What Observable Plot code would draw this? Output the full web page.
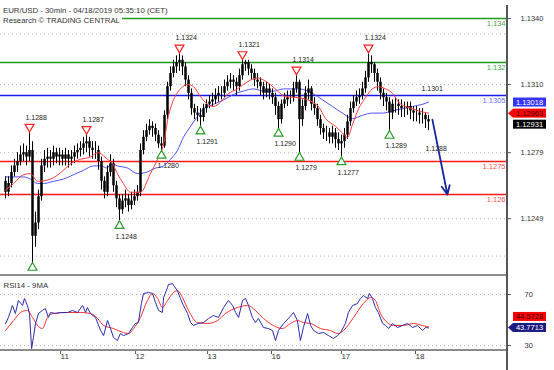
<!DOCTYPE html>
<html><head><meta charset="utf-8">
<script src="https://cdn.jsdelivr.net/npm/d3@7"></script>
<script src="https://cdn.jsdelivr.net/npm/@observablehq/plot@0.6"></script>
<style>
body{margin:0;background:#fff;}
#wrap{position:relative;width:554px;height:370px;overflow:hidden;font-family:"Liberation Sans",Arial,sans-serif;}
#price{position:absolute;left:0;top:0;}
#rsi{position:absolute;left:0;top:275px;}
.title{position:absolute;left:0;padding:0 2px 0 3px;font-size:7.8px;color:#333;line-height:9px;white-space:nowrap;overflow:hidden;}
#axisline{position:absolute;left:506px;top:5px;width:1.5px;height:365px;background:#555;}
.sep{position:absolute;left:0;width:507px;height:2px;background:#8c8c8c;}
</style></head><body>
<div id="wrap">
  <div id="price"></div>
  <div id="rsi"></div>
  <div class="sep" style="top:274px"></div>
  <div class="sep" style="top:349px"></div>
  <div id="axisline"></div>
  <div class="title" style="top:6px;height:9px">EUR/USD - 30min - 04/18/2019 05:35:10 (CET)</div>
  <div class="title" style="top:15px;height:10px;line-height:11px;background:#fff">Research © TRADING CENTRAL</div>
</div>
<script>
// ---------------- data ----------------
const firstOpen = 1.1266;
const close = [
1.1261,1.1265,1.1270,1.1273,1.1275,1.1278,1.1279,1.1277,1.1280,1.1241,
1.1247,1.1259,1.1273,1.1276,1.1277,1.1276,1.1279,1.1277,1.1278,1.1276,
1.1278,1.1276,1.1277,1.1279,1.1280,1.1281,1.1283,1.1284,1.1281,1.1280,
1.1280,1.1275,1.1266,1.1261,1.1270,1.1274,1.1264,1.1258,1.1253,1.1257,
1.1258,1.1255,1.1257,1.1259,1.1261,1.1280,1.1286,1.1289,1.1291,1.1290,
1.1287,1.1283,1.1282,1.1296,1.1309,1.1315,1.1318,1.1320,1.1321,1.1318,
1.1312,1.1306,1.1299,1.1297,1.1296,1.1295,1.1299,1.1301,1.1302,1.1303,
1.1305,1.1306,1.1306,1.1309,1.1311,1.1312,1.1311,1.1309,1.1314,1.1319,
1.1320,1.1317,1.1315,1.1312,1.1311,1.1309,1.1306,1.1308,1.1306,1.1304,
1.1300,1.1294,1.1301,1.1303,1.1304,1.1304,1.1308,1.1311,1.1294,1.1300,
1.1306,1.1308,1.1301,1.1299,1.1294,1.1290,1.1288,1.1288,1.1286,1.1288,
1.1285,1.1283,1.1284,1.1287,1.1293,1.1299,1.1302,1.1304,1.1305,1.1308,
1.1313,1.1320,1.1319,1.1315,1.1311,1.1306,1.1304,1.1302,1.1297,1.1301,
1.1301,1.1300,1.1299,1.1299,1.1300,1.1298,1.1297,1.1297,1.1296,1.1296,
1.1294,1.1293];
const high = [
1.1268,1.1268,1.1273,1.1276,1.1279,1.1282,1.1283,1.1282,1.1288,1.1284,
1.1252,1.1262,1.1276,1.1280,1.1281,1.1280,1.1282,1.1281,1.1281,1.1280,
1.1281,1.1280,1.1280,1.1282,1.1283,1.1284,1.1286,1.1287,1.1286,1.1284,
1.1284,1.1282,1.1277,1.1268,1.1273,1.1278,1.1276,1.1266,1.1260,1.1260,
1.1262,1.1260,1.1261,1.1262,1.1264,1.1283,1.1289,1.1292,1.1294,1.1293,
1.1292,1.1289,1.1286,1.1298,1.1311,1.1318,1.1321,1.1323,1.1324,1.1323,
1.1320,1.1314,1.1308,1.1301,1.1300,1.1299,1.1301,1.1303,1.1305,1.1306,
1.1308,1.1309,1.1309,1.1312,1.1314,1.1315,1.1314,1.1313,1.1317,1.1321,
1.1321,1.1321,1.1319,1.1317,1.1315,1.1313,1.1311,1.1311,1.1310,1.1308,
1.1306,1.1302,1.1303,1.1306,1.1307,1.1307,1.1311,1.1314,1.1312,1.1303,
1.1309,1.1312,1.1309,1.1304,1.1301,1.1296,1.1292,1.1291,1.1290,1.1291,
1.1290,1.1288,1.1287,1.1290,1.1296,1.1302,1.1305,1.1307,1.1308,1.1311,
1.1316,1.1324,1.1323,1.1320,1.1317,1.1313,1.1308,1.1306,1.1304,1.1303,
1.1304,1.1303,1.1303,1.1302,1.1302,1.1302,1.1300,1.1300,1.1299,1.1299,
1.1297,1.1296];
const low = [
1.1258,1.1259,1.1263,1.1268,1.1270,1.1273,1.1275,1.1273,1.1275,1.1229,
1.1236,1.1244,1.1257,1.1270,1.1272,1.1272,1.1273,1.1274,1.1273,1.1273,
1.1273,1.1272,1.1273,1.1274,1.1276,1.1277,1.1278,1.1279,1.1277,1.1276,
1.1276,1.1271,1.1262,1.1258,1.1259,1.1268,1.1261,1.1254,1.1248,1.1251,
1.1254,1.1252,1.1253,1.1255,1.1257,1.1259,1.1278,1.1284,1.1287,1.1286,
1.1284,1.1281,1.1280,1.1281,1.1294,1.1307,1.1313,1.1315,1.1316,1.1314,
1.1309,1.1303,1.1296,1.1294,1.1293,1.1291,1.1293,1.1297,1.1299,1.1300,
1.1301,1.1302,1.1303,1.1304,1.1307,1.1308,1.1307,1.1305,1.1307,1.1312,
1.1316,1.1314,1.1312,1.1309,1.1308,1.1305,1.1303,1.1304,1.1303,1.1301,
1.1296,1.1290,1.1292,1.1299,1.1300,1.1301,1.1302,1.1306,1.1279,1.1291,
1.1298,1.1303,1.1298,1.1296,1.1291,1.1287,1.1285,1.1284,1.1283,1.1283,
1.1281,1.1280,1.1277,1.1281,1.1285,1.1291,1.1297,1.1300,1.1301,1.1303,
1.1306,1.1311,1.1315,1.1311,1.1307,1.1303,1.1300,1.1298,1.1289,1.1294,
1.1297,1.1296,1.1295,1.1295,1.1296,1.1294,1.1293,1.1293,1.1292,1.1292,
1.1290,1.1289];

// moving averages on price (bar index, price)
const redMaIdx = [0,2.7,6,8.3,10.7,15,19.3,21.7,25,28.3,30.7,34,35.7,37.3,39.3,41.7,45,48.3,50.7,52.7,54.3,56,58.3,60.7,62.7,65,67.3,69.3,71.7,74,77.3,79.3,81.7,84,86,88.3,90.7,93.3,97.7,102.3,104.3,106.7,110,112.3,114,115.7,117.7,120,122.3,124.3,126.7,129,131,133.3,135.7,137.7,141];
const redMaVal = [1.1262,1.1265,1.1269,1.12695,1.1266,1.1267,1.1271,1.1274,1.1276,1.1277,1.1279,1.1276,1.1274,1.12695,1.1265,1.1261,1.1261,1.12695,1.1276,1.1283,1.12955,1.1303,1.1308,1.1310,1.1309,1.13045,1.1301,1.1300,1.1302,1.13055,1.1308,1.1310,1.1312,1.1313,1.1312,1.1310,1.1307,1.13045,1.1304,1.1302,1.1300,1.12945,1.1291,1.1288,1.1286,1.1292,1.1299,1.1304,1.1308,1.1309,1.1308,1.1306,1.1302,1.1300,1.1299,1.1298,1.1297];
const blueMaIdx = [0,6,8.3,10.7,12.7,16,19.3,22.7,26,29.3,31.7,34,35,37.3,40.7,44,46.7,50,52.7,55,57.3,59.3,61.7,64,66,69.3,72.7,76,79.3,82.7,86,89.3,92.7,97.7,102.3,105.7,109,112.3,115.7,119,122.3,125.7,129,132.3,135.7,139,141];
const blueMaVal = [1.1268,1.1268,1.1267,1.1265,1.1265,1.1266,1.1267,1.1269,1.1271,1.1273,1.1273,1.1272,1.1274,1.1273,1.1272,1.12695,1.1270,1.1272,1.1273,1.1276,1.1280,1.1286,1.1291,1.12955,1.1299,1.1301,1.1303,1.13055,1.1307,1.1308,1.1307,1.1307,1.1308,1.1308,1.1306,1.1303,1.1300,1.1297,1.12945,1.1296,1.1297,1.1297,1.1298,1.1299,1.1300,1.1301,1.1302];

// RSI14 and its 9MA
const rsiIdx = [0,1,2.3,3.3,4.3,5.7,6.3,7.3,8,8.7,9.3,10,11,12.3,13.3,14.3,15,16.7,18.3,20.7,22.3,24,25.7,26.7,27.3,28.3,30,31.7,32.7,34,35,36,37.3,38.3,39.3,41,42.3,43.3,44.3,45.3,46,47.7,49,50,51,52.3,52.7,54,54.3,55.7,56,57.3,58.3,59.3,60.7,61.7,62.7,64.3,66,67.7,69.3,71,72.7,74.3,75.7,76.7,77.7,79,80,81,82.3,83.3,84.3,86,87.7,89,90,91,92.7,94.3,96,97.3,98.3,99.3,100.7,101.7,102.7,104.3,106,107.7,109.3,110.7,111.7,113.3,114.3,115.7,117.3,118.3,119.3,120.7,121.3,122.3,123.3,124.3,125.7,126.7,127.7,129,130.7,132.3,134,135.7,137.3,139,140,141];
const rsiVal = [47.0,52.2,61.4,55.1,65.3,61.4,66.9,61.4,55.1,27.6,36.3,47.3,55.1,57.5,59.0,52.0,55.9,55.1,55.9,55.9,57.5,55.9,61.4,55.9,59.8,55.1,52.0,41.8,37.8,49.6,43.3,36.3,33.9,39.4,37.8,39.4,44.1,47.3,48.0,62.9,70.8,71.6,70.8,63.7,57.5,55.9,67.6,75.5,77.8,78.6,77.1,73.1,66.9,61.4,55.1,48.0,45.7,47.3,48.0,51.2,53.5,52.0,59.8,65.3,61.4,55.9,52.0,65.3,66.9,61.4,52.0,48.0,51.2,44.1,43.3,41.8,33.9,41.8,47.3,51.2,55.9,49.6,33.9,44.1,55.1,45.7,41.8,39.4,40.2,37.8,35.5,37.8,40.2,47.3,55.9,61.4,62.9,66.9,69.2,66.9,70.8,66.9,59.8,55.9,47.3,45.7,43.3,47.3,44.1,45.7,47.3,44.1,45.7,41.8,44.1,43.8];
const rsiMaIdx = [0,2.7,5,7.3,9,10.7,12.3,14,16,20.7,25,28.3,30.7,32.7,36,39.3,41,42.7,45,47.3,49,50.7,52.3,54,55.7,57.3,59,61,64,67.3,70.7,73.3,77.3,80.7,83.3,86,89.3,92.3,95,97.3,99.3,101.7,105,108.3,110.7,112.7,116,119.3,121.7,123.3,125,127.3,129.3,132.7,136,139,141];
const rsiMaVal = [41.8,49.6,55.9,57.5,52.0,45.7,43.3,52.0,55.1,55.9,55.9,55.1,51.2,45.7,43.3,40.2,39.4,43.3,52.0,65.3,70.8,66.9,59.8,65.3,70.8,73.1,67.6,57.5,48.0,47.3,49.6,55.1,59.8,61.4,57.5,51.2,45.7,43.3,47.3,49.6,48.0,47.3,43.3,41.8,39.4,41.8,52.0,62.9,67.6,65.3,55.1,48.0,45.7,45.7,47.3,45.7,44.6];

// swing highs / lows
const markerIdx   = [8, 9, 27, 38, 52, 58, 65, 79, 91, 97, 98, 112, 121, 128];
const markerPrice = [1.1288, 1.1229, 1.1287, 1.1248, 1.1280, 1.1324, 1.1291, 1.1321, 1.1290, 1.1314, 1.1279, 1.1277, 1.1324, 1.1289];
const markerType  = ["H","L","H","L","L","H","L","H","L","H","L","L","H","L"];
const markerLabel = ["1.1288","","1.1287","1.1248","1.1280","1.1324","1.1291","1.1321","1.1290","1.1314","1.1279","1.1277","1.1324","1.1289"];
const pendingIdx   = [140, 141.3];
const pendingPrice = [1.1301, 1.1288];
const pendingType  = ["H","L"];

// key levels
const levelVal   = [1.134, 1.132, 1.1305, 1.1275, 1.126];
const levelLabel = ["1.134","1.132","1.1305","1.1275","1.126"];
const levelKind  = ["res","res","piv","sup","sup"];

// projection arrow
const arrowFromIdx = 142.3, arrowFromPrice = 1.1294;
const arrowToIdx = 147.3,   arrowToPrice = 1.1260;

// axes
const priceTicks = [1.1340, 1.1310, 1.1279, 1.1249];
const priceGrid  = [1.1333, 1.1310, 1.1279, 1.1249, 1.1232];
const rsiTicks = [70, 30];
const rsiGrid  = [70, 30];
const dayIdx    = [17.7, 42.7, 66.7, 88, 111.3, 136];
const dayLabels = ["11","12","13","16","17","18"];

// last values
const priceBadgeVal  = [1.13018, 1.12963, 1.12931];
const priceBadgeText = ["1.13018","1.12963","1.12931"];
const rsiBadgeVal  = [44.5728, 43.7713];
const rsiBadgeText = ["44.5728","43.7713"];

// ---------------- build ----------------
const FONT = '"Liberation Sans", Arial, sans-serif';
const candles = close.map((c, i) => ({i, open: i === 0 ? firstOpen : close[i-1], close: c, high: high[i], low: low[i]}));
const zip = (xs, ys) => xs.map((x, k) => ({i: x, v: ys[k]}));
const markers = markerIdx.map((x, k) => ({i: x, p: markerPrice[k], t: markerType[k], label: markerLabel[k]}));
const pend = pendingIdx.map((x, k) => ({i: x, p: pendingPrice[k], t: pendingType[k], label: pendingPrice[k].toFixed(4)}));
const highs = markers.filter(d => d.t === "H"), lows = markers.filter(d => d.t === "L");
const levelStroke = {res: "#1f9a1f", piv: "#1a1ae8", sup: "#ff1a1a"};
const levelText = {res: "#4aa54a", piv: "#6b6bff", sup: "#ff4d4d"};
const levels = levelVal.map((v, k) => ({v, label: levelLabel[k], kind: levelKind[k]}));

const xDomain = [-5/3, 502/3];

const price = Plot.plot({
  width: 554, height: 275, marginTop: 0, marginBottom: 0, marginLeft: 0, marginRight: 47,
  style: {fontFamily: FONT, fontSize: "7.5px", color: "#333", background: "transparent", overflow: "visible"},
  x: {domain: xDomain, axis: null},
  y: {domain: [1.122318, 1.134818]},
  color: {type: "identity"},
  marks: [
    Plot.ruleY(priceGrid, {stroke: "#b4b4b4", strokeDasharray: "1,3"}),
    Plot.ruleY(levels, {y: "v", stroke: d => levelStroke[d.kind], strokeWidth: 1.6}),
    Plot.text(levels, {y: "v", text: "label", frameAnchor: "right", textAnchor: "end", dx: -2, dy: 5.5, fill: d => levelText[d.kind], fontSize: 7.5}),
    Plot.line(zip(blueMaIdx, blueMaVal), {x: "i", y: "v", stroke: "#5050ff", strokeWidth: 1, curve: "monotone-x"}),
    Plot.ruleX(candles, {x: "i", y1: "low", y2: "high", stroke: "#000", strokeWidth: 1}),
    Plot.ruleX(candles, {x: "i", y1: "open", y2: "close", stroke: "#000", strokeWidth: 2.5}),
    Plot.line(zip(redMaIdx, redMaVal), {x: "i", y: "v", stroke: "#ff3b3b", strokeWidth: 1, curve: "monotone-x"}),
    Plot.dot(highs, {x: "i", y: "p", symbol: "triangle", rotate: 180, r: 3.3, dy: -6, stroke: "#ff2020", fill: "#fff", strokeWidth: 1.2}),
    Plot.dot(lows, {x: "i", y: "p", symbol: "triangle", r: 3.3, dy: 5, stroke: "#2a9a2a", fill: "#fff", strokeWidth: 1.2}),
    Plot.text(highs.concat(pend.filter(d => d.t === "H")), {x: "i", y: "p", text: "label", dy: -15.5, dx: -4, textAnchor: "start", fill: "#222", fontSize: 7}),
    Plot.text(lows.concat(pend.filter(d => d.t === "L")), {x: "i", y: "p", text: "label", dy: 15.5, dx: -4, textAnchor: "start", fill: "#222", fontSize: 7}),
    Plot.arrow([{x1: arrowFromIdx, y1: arrowFromPrice, x2: arrowToIdx, y2: arrowToPrice}], {x1: "x1", y1: "y1", x2: "x2", y2: "y2", stroke: "#17279a", strokeWidth: 1.8, headLength: 8, headAngle: 50}),
    Plot.axisY({anchor: "right", ticks: priceTicks, tickFormat: d3.format(".4f"), tickSize: 3, tickPadding: 10, label: null, fill: "#333", fontSize: 7.5, stroke: "#555"})
  ]
});
document.getElementById("price").appendChild(price);

const rsi = Plot.plot({
  width: 554, height: 95, marginTop: 0, marginBottom: 20, marginLeft: 0, marginRight: 47,
  style: {fontFamily: FONT, fontSize: "7.5px", color: "#333", background: "transparent", overflow: "visible"},
  x: {domain: xDomain},
  y: {domain: [26.1, 84.9]},
  color: {type: "identity"},
  marks: [
    Plot.ruleY(rsiGrid, {stroke: "#b4b4b4", strokeDasharray: "1,3"}),
    Plot.line(zip(rsiMaIdx, rsiMaVal), {x: "i", y: "v", stroke: "#ff3030", strokeWidth: 1, curve: "monotone-x"}),
    Plot.line(zip(rsiIdx, rsiVal), {x: "i", y: "v", stroke: "#2b2bb0", strokeWidth: 1}),
    Plot.text(["RSI14 - 9MA"], {frameAnchor: "top-left", dx: 3, dy: 7, fill: "#333", fontSize: 7.8}),
    Plot.axisY({anchor: "right", ticks: rsiTicks, tickSize: 3, tickPadding: 14, label: null, fill: "#333", fontSize: 7.5, stroke: "#555"}),
    Plot.axisX({anchor: "bottom", ticks: dayIdx, tickFormat: d => dayLabels[dayIdx.indexOf(d)], tickSize: 4, tickPadding: -1, textAnchor: "start", dx: 2, label: null, fill: "#333", fontSize: 8, stroke: "#555"})
  ]
});
document.getElementById("rsi").appendChild(rsi);

// value badges on the right scale
function badges(chart, vals, texts, styles) {
  const y = chart.scale("y"), x = chart.scale("x");
  const x0 = x.range[1];
  const g = d3.select(chart).append("g").attr("font-family", FONT).attr("font-size", "7.5px");
  vals.forEach((v, k) => {
    const s = styles[k];
    const cy = y.apply(v) + s.shift;
    if (s.pointer) g.append("path").attr("d", `M${x0+1},${cy}L${x0+6},${cy-4.5}L${x0+6},${cy+4.5}Z`).attr("fill", s.bg);
    g.append("rect").attr("x", x0 + 6).attr("y", cy - 4.5).attr("width", 33).attr("height", 9).attr("fill", s.bg);
    g.append("text").attr("x", x0 + 22.5).attr("y", cy).attr("dy", "0.35em").attr("text-anchor", "middle").attr("fill", s.fg).text(texts[k]);
  });
}
badges(price, priceBadgeVal, priceBadgeText, [
  {bg: "#3333ff", fg: "#fff", shift: 0},
  {bg: "#ff0000", fg: "#300", shift: -1, pointer: true},
  {bg: "#000", fg: "#fff", shift: 3}
]);
badges(rsi, rsiBadgeVal, rsiBadgeText, [
  {bg: "#ff0000", fg: "#300", shift: -10},
  {bg: "#1a1a80", fg: "#fff", shift: 0, pointer: true}
]);
</script>
</body></html>
